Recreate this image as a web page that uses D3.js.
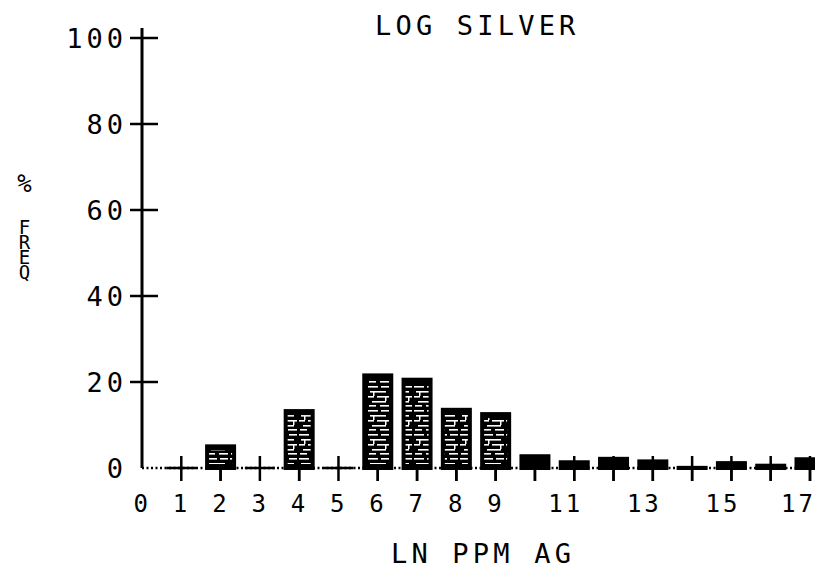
<!DOCTYPE html>
<html>
<head>
<meta charset="utf-8">
<script src="https://cdn.jsdelivr.net/npm/d3@7/dist/d3.min.js"></script>
<style>
  html, body { margin: 0; padding: 0; background: #fff; }
  svg { display: block; }
  text { font-family: "DejaVu Sans Mono", "Liberation Mono", monospace; fill: #000; }
</style>
</head>
<body>
<script>
// ---- data ----
const bins = [0, 1, 2, 3, 4, 5, 6, 7, 8, 9, 10, 11, 12, 13, 14, 15, 16, 17];
const freq = [0, 0, 5.5, 0, 13.7, 0, 22, 21, 14, 13, 3.2, 1.8, 2.6, 2, 0.5, 1.6, 1, 2.5];
const xTickLabels = [0, 1, 2, 3, 4, 5, 6, 7, 8, 9, 11, 13, 15, 17];
const yTicks = [0, 20, 40, 60, 80, 100];
const title = "LOG SILVER";
const xTitle = "LN PPM AG";
const yTitleSymbol = "%";
const yTitleWord = "FREQ";

const W = 815, H = 571;
const svg = d3.select("body").append("svg").attr("width", W).attr("height", H);

const x = d3.scaleLinear().domain([0, 17]).range([142, 810]);
const y = d3.scaleLinear().domain([0, 100]).range([468, 38]);
const barW = 31;

// texture pattern (white raster dashes inside bars)
const defs = svg.append("defs");
const pat = defs.append("pattern").attr("id", "tex")
  .attr("patternUnits", "userSpaceOnUse").attr("width", 23).attr("height", 24);
[[0,2,10,1.6],[13,2,8,1.6],[2,7,16,1.6],[0,12,6,1.6],[9,12,12,1.6],
 [4,17,14,1.6],[1,21,7,1.6],[12,21,9,1.6],[5,8,1.5,4],[17,13,1.5,4]].forEach(r => {
  pat.append("rect").attr("x", r[0]).attr("y", r[1]).attr("width", r[2]).attr("height", r[3]).attr("fill", "#fff");
});

// baseline (dotted)
svg.append("line")
  .attr("x1", x(0)).attr("x2", x(17) + 3)
  .attr("y1", y(0)).attr("y2", y(0))
  .attr("stroke", "#000").attr("stroke-width", 2.5).attr("stroke-dasharray", "2,2.5");

// x crosses at each bin
const xt = svg.append("g");
bins.filter(d => d > 0).forEach(d => {
  xt.append("line").attr("x1", x(d) - 15).attr("x2", x(d) + 15)
    .attr("y1", y(0)).attr("y2", y(0)).attr("stroke", "#000").attr("stroke-width", 2.5);
  xt.append("line").attr("x1", x(d)).attr("x2", x(d))
    .attr("y1", y(0) - 12).attr("y2", y(0) + 13).attr("stroke", "#000").attr("stroke-width", 2.5);
});

// bars
const data = bins.map((b, i) => ({ b, v: freq[i] })).filter(d => d.v > 0);
const bars = svg.append("g");
bars.selectAll("rect.bar").data(data).join("rect").attr("class", "bar")
  .attr("x", d => x(d.b) - barW / 2)
  .attr("y", d => y(d.v))
  .attr("width", barW)
  .attr("height", d => y(0) - y(d.v) + 2)
  .attr("fill", "#000");
bars.selectAll("rect.tex").data(data.filter(d => y(0) - y(d.v) > 18)).join("rect").attr("class", "tex")
  .attr("x", d => x(d.b) - barW / 2 + 4)
  .attr("y", d => y(d.v) + 6)
  .attr("width", barW - 8)
  .attr("height", d => y(0) - y(d.v) - 10)
  .attr("fill", "url(#tex)");

// lower tick stubs remain visible below bars
data.forEach(d => {
  svg.append("line").attr("x1", x(d.b)).attr("x2", x(d.b))
    .attr("y1", y(0) + 2).attr("y2", y(0) + 13).attr("stroke", "#000").attr("stroke-width", 2.5);
});

// y axis
svg.append("line").attr("x1", x(0)).attr("x2", x(0)).attr("y1", 28).attr("y2", y(0))
  .attr("stroke", "#000").attr("stroke-width", 3);
yTicks.filter(d => d > 0).forEach(d => {
  svg.append("line").attr("x1", x(0) - 12).attr("x2", x(0) + 16)
    .attr("y1", y(d)).attr("y2", y(d)).attr("stroke", "#000").attr("stroke-width", 2.5);
});
svg.append("g").selectAll("text").data(yTicks).join("text")
  .attr("x", 123).attr("y", d => y(d) + 10)
  .attr("text-anchor", "end")
  .attr("font-size", 27)
  .attr("letter-spacing", 4)
  .attr("dx", 4)
  .text(d => d);

// x tick labels (right edge just past the tick)
svg.append("g").selectAll("text").data(xTickLabels).join("text")
  .attr("x", d => Math.min(x(d) + 6, 813)).attr("y", 512)
  .attr("text-anchor", "end")
  .attr("font-size", 24)
  .attr("letter-spacing", 3)
  .attr("dx", 3)
  .text(d => d);

// titles
svg.append("text").attr("x", 375).attr("y", 35)
  .attr("font-size", 27).attr("letter-spacing", 4.2).text(title);
svg.append("text").attr("x", 391).attr("y", 563)
  .attr("font-size", 27).attr("letter-spacing", 4.2).text(xTitle);

// y title: "%" then vertical "FREQ"
svg.append("text").attr("x", 24.5).attr("y", 192).attr("text-anchor", "middle")
  .attr("font-size", 24).text(yTitleSymbol);
svg.append("text")
  .attr("x", 24.5).attr("y", 216)
  .attr("font-size", 19)
  .attr("textLength", 67)
  .attr("lengthAdjust", "spacing")
  .style("writing-mode", "vertical-lr")
  .style("text-orientation", "upright")
  .text(yTitleWord);
</script>
</body>
</html>
